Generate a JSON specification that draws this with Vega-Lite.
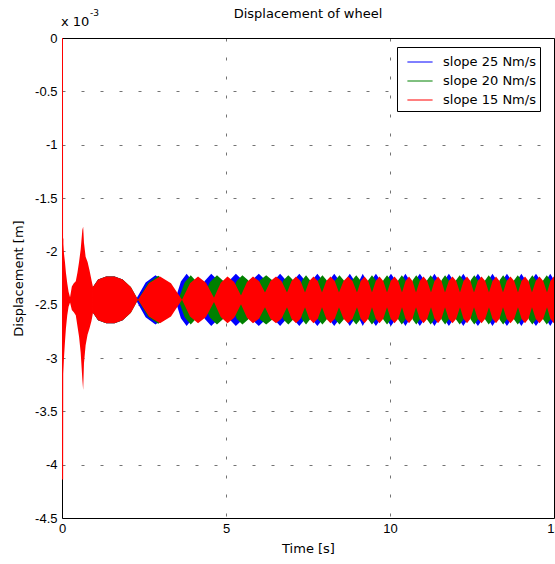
{
"$schema": "https://vega.github.io/schema/vega-lite/v6.json",
"width": 492, "height": 480,
"autosize": {"type": "none"},
"padding": {"left": 62, "top": 38, "right": 1, "bottom": 46},
"background": "white",
"title": {"text": "Displacement of wheel", "font": "DejaVu Sans", "fontSize": 13, "fontWeight": "normal", "color": "black", "anchor": "middle", "frame": "group", "offset": 10, "dy": 22},
"config": {
  "view": {"stroke": "black", "strokeWidth": 1},
  "axis": {"grid": true, "gridColor": "#000000", "gridOpacity": 0.55, "gridDash": [3, 16], "gridWidth": 1, "domain": false, "ticks": false,
    "labelFont": "Liberation Sans", "labelFontSize": 13, "labelColor": "black", "labelFlush": false,
    "titleFont": "DejaVu Sans", "titleFontSize": 13, "titleFontWeight": "normal", "titleColor": "black"}
},
"datasets": {
"b": [{"t":0.945,"hi":-2.335,"lo":-2.575},{"t":1.1,"hi":-2.265,"lo":-2.645},{"t":1.35,"hi":-2.235,"lo":-2.675},{"t":1.6,"hi":-2.235,"lo":-2.675},{"t":1.85,"hi":-2.265,"lo":-2.645},{"t":2.07,"hi":-2.335,"lo":-2.575},{"t":2.25,"hi":-2.455,"lo":-2.455},
{"t":2.55,"hi":-2.292,"lo":-2.618},{"t":2.85,"hi":-2.225,"lo":-2.685},{"t":3.15,"hi":-2.292,"lo":-2.618},{"t":3.45,"hi":-2.455,"lo":-2.455},
{"t":3.625,"hi":-2.282,"lo":-2.628},{"t":3.8,"hi":-2.21,"lo":-2.7},{"t":3.975,"hi":-2.278,"lo":-2.632},{"t":4.15,"hi":-2.425,"lo":-2.485},
{"t":4.35,"hi":-2.278,"lo":-2.632},{"t":4.55,"hi":-2.21,"lo":-2.7},{"t":4.75,"hi":-2.27,"lo":-2.64},{"t":4.95,"hi":-2.405,"lo":-2.505},
{"t":5.125,"hi":-2.266,"lo":-2.644},{"t":5.3,"hi":-2.21,"lo":-2.7},{"t":5.475,"hi":-2.261,"lo":-2.649},{"t":5.65,"hi":-2.385,"lo":-2.525},
{"t":5.825,"hi":-2.261,"lo":-2.649},{"t":6.0,"hi":-2.21,"lo":-2.7},{"t":6.175,"hi":-2.261,"lo":-2.649},{"t":6.35,"hi":-2.385,"lo":-2.525},
{"t":6.5,"hi":-2.261,"lo":-2.649},{"t":6.65,"hi":-2.21,"lo":-2.7},{"t":6.8,"hi":-2.261,"lo":-2.649},{"t":6.95,"hi":-2.385,"lo":-2.525},
{"t":7.093,"hi":-2.261,"lo":-2.649},{"t":7.235,"hi":-2.21,"lo":-2.7},{"t":7.378,"hi":-2.261,"lo":-2.649},{"t":7.52,"hi":-2.385,"lo":-2.525},
{"t":7.653,"hi":-2.261,"lo":-2.649},{"t":7.785,"hi":-2.21,"lo":-2.7},{"t":7.918,"hi":-2.261,"lo":-2.649},{"t":8.05,"hi":-2.385,"lo":-2.525},
{"t":8.175,"hi":-2.261,"lo":-2.649},{"t":8.3,"hi":-2.21,"lo":-2.7},{"t":8.425,"hi":-2.261,"lo":-2.649},{"t":8.55,"hi":-2.385,"lo":-2.525},
{"t":8.663,"hi":-2.261,"lo":-2.649},{"t":8.775,"hi":-2.21,"lo":-2.7},{"t":8.888,"hi":-2.261,"lo":-2.649},{"t":9.0,"hi":-2.385,"lo":-2.525},
{"t":9.085,"hi":-2.261,"lo":-2.649},{"t":9.17,"hi":-2.21,"lo":-2.7},{"t":9.255,"hi":-2.261,"lo":-2.649},{"t":9.34,"hi":-2.385,"lo":-2.525},
{"t":9.455,"hi":-2.261,"lo":-2.649},{"t":9.57,"hi":-2.21,"lo":-2.7},{"t":9.685,"hi":-2.261,"lo":-2.649},{"t":9.8,"hi":-2.385,"lo":-2.525},
{"t":9.915,"hi":-2.261,"lo":-2.649},{"t":10.03,"hi":-2.21,"lo":-2.7},{"t":10.145,"hi":-2.261,"lo":-2.649},{"t":10.26,"hi":-2.385,"lo":-2.525},
{"t":10.365,"hi":-2.261,"lo":-2.649},{"t":10.47,"hi":-2.21,"lo":-2.7},{"t":10.575,"hi":-2.261,"lo":-2.649},{"t":10.68,"hi":-2.385,"lo":-2.525},
{"t":10.795,"hi":-2.261,"lo":-2.649},{"t":10.91,"hi":-2.21,"lo":-2.7},{"t":11.025,"hi":-2.261,"lo":-2.649},{"t":11.14,"hi":-2.385,"lo":-2.525},
{"t":11.248,"hi":-2.261,"lo":-2.649},{"t":11.355,"hi":-2.21,"lo":-2.7},{"t":11.463,"hi":-2.261,"lo":-2.649},{"t":11.57,"hi":-2.385,"lo":-2.525},
{"t":11.683,"hi":-2.261,"lo":-2.649},{"t":11.795,"hi":-2.21,"lo":-2.7},{"t":11.908,"hi":-2.261,"lo":-2.649},{"t":12.02,"hi":-2.385,"lo":-2.525},
{"t":12.128,"hi":-2.261,"lo":-2.649},{"t":12.235,"hi":-2.21,"lo":-2.7},{"t":12.343,"hi":-2.261,"lo":-2.649},{"t":12.45,"hi":-2.385,"lo":-2.525},
{"t":12.565,"hi":-2.261,"lo":-2.649},{"t":12.68,"hi":-2.21,"lo":-2.7},{"t":12.795,"hi":-2.261,"lo":-2.649},{"t":12.91,"hi":-2.385,"lo":-2.525},
{"t":13.018,"hi":-2.261,"lo":-2.649},{"t":13.125,"hi":-2.21,"lo":-2.7},{"t":13.233,"hi":-2.261,"lo":-2.649},{"t":13.34,"hi":-2.385,"lo":-2.525},
{"t":13.453,"hi":-2.261,"lo":-2.649},{"t":13.565,"hi":-2.21,"lo":-2.7},{"t":13.678,"hi":-2.261,"lo":-2.649},{"t":13.79,"hi":-2.385,"lo":-2.525},
{"t":13.898,"hi":-2.261,"lo":-2.649},{"t":14.005,"hi":-2.21,"lo":-2.7},{"t":14.113,"hi":-2.261,"lo":-2.649},{"t":14.22,"hi":-2.385,"lo":-2.525},
{"t":14.335,"hi":-2.261,"lo":-2.649},{"t":14.45,"hi":-2.21,"lo":-2.7},{"t":14.565,"hi":-2.261,"lo":-2.649},{"t":14.68,"hi":-2.385,"lo":-2.525},
{"t":14.783,"hi":-2.261,"lo":-2.649},{"t":14.885,"hi":-2.21,"lo":-2.7},{"t":14.988,"hi":-2.261,"lo":-2.649},{"t":15.09,"hi":-2.385,"lo":-2.525},
{"t":15.193,"hi":-2.261,"lo":-2.649},{"t":15.295,"hi":-2.21,"lo":-2.7}],
"g": [{"t":0.945,"hi":-2.335,"lo":-2.575},{"t":1.1,"hi":-2.265,"lo":-2.645},{"t":1.35,"hi":-2.235,"lo":-2.675},{"t":1.6,"hi":-2.235,"lo":-2.675},{"t":1.85,"hi":-2.265,"lo":-2.645},{"t":2.1,"hi":-2.335,"lo":-2.575},{"t":2.317,"hi":-2.455,"lo":-2.455},
{"t":2.625,"hi":-2.296,"lo":-2.614},{"t":2.934,"hi":-2.23,"lo":-2.68},{"t":3.242,"hi":-2.296,"lo":-2.614},{"t":3.55,"hi":-2.455,"lo":-2.455},
{"t":3.738,"hi":-2.292,"lo":-2.618},{"t":3.925,"hi":-2.225,"lo":-2.685},{"t":4.113,"hi":-2.288,"lo":-2.622},{"t":4.3,"hi":-2.425,"lo":-2.485},
{"t":4.513,"hi":-2.288,"lo":-2.622},{"t":4.725,"hi":-2.225,"lo":-2.685},{"t":4.938,"hi":-2.283,"lo":-2.627},{"t":5.15,"hi":-2.405,"lo":-2.505},
{"t":5.325,"hi":-2.278,"lo":-2.632},{"t":5.5,"hi":-2.225,"lo":-2.685},{"t":5.675,"hi":-2.272,"lo":-2.638},{"t":5.85,"hi":-2.385,"lo":-2.525},
{"t":6.038,"hi":-2.272,"lo":-2.638},{"t":6.225,"hi":-2.225,"lo":-2.685},{"t":6.413,"hi":-2.272,"lo":-2.638},{"t":6.6,"hi":-2.385,"lo":-2.525},
{"t":6.75,"hi":-2.272,"lo":-2.638},{"t":6.9,"hi":-2.225,"lo":-2.685},{"t":7.05,"hi":-2.272,"lo":-2.638},{"t":7.2,"hi":-2.385,"lo":-2.525},
{"t":7.32,"hi":-2.272,"lo":-2.638},{"t":7.44,"hi":-2.225,"lo":-2.685},{"t":7.56,"hi":-2.272,"lo":-2.638},{"t":7.68,"hi":-2.385,"lo":-2.525},
{"t":7.81,"hi":-2.272,"lo":-2.638},{"t":7.94,"hi":-2.225,"lo":-2.685},{"t":8.07,"hi":-2.272,"lo":-2.638},{"t":8.2,"hi":-2.385,"lo":-2.525},
{"t":8.33,"hi":-2.272,"lo":-2.638},{"t":8.46,"hi":-2.225,"lo":-2.685},{"t":8.59,"hi":-2.272,"lo":-2.638},{"t":8.72,"hi":-2.385,"lo":-2.525},
{"t":8.845,"hi":-2.272,"lo":-2.638},{"t":8.97,"hi":-2.225,"lo":-2.685},{"t":9.095,"hi":-2.272,"lo":-2.638},{"t":9.22,"hi":-2.385,"lo":-2.525},
{"t":9.335,"hi":-2.272,"lo":-2.638},{"t":9.45,"hi":-2.225,"lo":-2.685},{"t":9.565,"hi":-2.272,"lo":-2.638},{"t":9.68,"hi":-2.385,"lo":-2.525},
{"t":9.795,"hi":-2.272,"lo":-2.638},{"t":9.91,"hi":-2.225,"lo":-2.685},{"t":10.025,"hi":-2.272,"lo":-2.638},{"t":10.14,"hi":-2.385,"lo":-2.525},
{"t":10.25,"hi":-2.272,"lo":-2.638},{"t":10.36,"hi":-2.225,"lo":-2.685},{"t":10.47,"hi":-2.272,"lo":-2.638},{"t":10.58,"hi":-2.385,"lo":-2.525},
{"t":10.69,"hi":-2.272,"lo":-2.638},{"t":10.8,"hi":-2.225,"lo":-2.685},{"t":10.91,"hi":-2.272,"lo":-2.638},{"t":11.02,"hi":-2.385,"lo":-2.525},
{"t":11.13,"hi":-2.272,"lo":-2.638},{"t":11.24,"hi":-2.225,"lo":-2.685},{"t":11.35,"hi":-2.272,"lo":-2.638},{"t":11.46,"hi":-2.385,"lo":-2.525},
{"t":11.57,"hi":-2.272,"lo":-2.638},{"t":11.68,"hi":-2.225,"lo":-2.685},{"t":11.79,"hi":-2.272,"lo":-2.638},{"t":11.9,"hi":-2.385,"lo":-2.525},
{"t":12.013,"hi":-2.272,"lo":-2.638},{"t":12.125,"hi":-2.225,"lo":-2.685},{"t":12.238,"hi":-2.272,"lo":-2.638},{"t":12.35,"hi":-2.385,"lo":-2.525},
{"t":12.46,"hi":-2.272,"lo":-2.638},{"t":12.57,"hi":-2.225,"lo":-2.685},{"t":12.68,"hi":-2.272,"lo":-2.638},{"t":12.79,"hi":-2.385,"lo":-2.525},
{"t":12.9,"hi":-2.272,"lo":-2.638},{"t":13.01,"hi":-2.225,"lo":-2.685},{"t":13.12,"hi":-2.272,"lo":-2.638},{"t":13.23,"hi":-2.385,"lo":-2.525},
{"t":13.34,"hi":-2.272,"lo":-2.638},{"t":13.45,"hi":-2.225,"lo":-2.685},{"t":13.56,"hi":-2.272,"lo":-2.638},{"t":13.67,"hi":-2.385,"lo":-2.525},
{"t":13.783,"hi":-2.272,"lo":-2.638},{"t":13.895,"hi":-2.225,"lo":-2.685},{"t":14.008,"hi":-2.272,"lo":-2.638},{"t":14.12,"hi":-2.385,"lo":-2.525},
{"t":14.23,"hi":-2.272,"lo":-2.638},{"t":14.34,"hi":-2.225,"lo":-2.685},{"t":14.45,"hi":-2.272,"lo":-2.638},{"t":14.56,"hi":-2.385,"lo":-2.525},
{"t":14.67,"hi":-2.272,"lo":-2.638},{"t":14.78,"hi":-2.225,"lo":-2.685},{"t":14.89,"hi":-2.272,"lo":-2.638},{"t":15.0,"hi":-2.385,"lo":-2.525},
{"t":15.11,"hi":-2.272,"lo":-2.638},{"t":15.22,"hi":-2.225,"lo":-2.685}],
"r": [{"t":0.945,"hi":-2.335,"lo":-2.575},{"t":1.1,"hi":-2.265,"lo":-2.645},{"t":1.35,"hi":-2.235,"lo":-2.675},{"t":1.6,"hi":-2.235,"lo":-2.675},{"t":1.85,"hi":-2.265,"lo":-2.645},{"t":2.1,"hi":-2.335,"lo":-2.575},{"t":2.317,"hi":-2.455,"lo":-2.455},
{"t":2.653,"hi":-2.299,"lo":-2.611},{"t":2.988,"hi":-2.235,"lo":-2.675},{"t":3.323,"hi":-2.299,"lo":-2.611},{"t":3.659,"hi":-2.455,"lo":-2.455},
{"t":3.903,"hi":-2.299,"lo":-2.611},{"t":4.147,"hi":-2.235,"lo":-2.675},{"t":4.39,"hi":-2.294,"lo":-2.616},{"t":4.634,"hi":-2.435,"lo":-2.475},
{"t":4.84,"hi":-2.294,"lo":-2.616},{"t":5.046,"hi":-2.235,"lo":-2.675},{"t":5.251,"hi":-2.288,"lo":-2.622},{"t":5.457,"hi":-2.415,"lo":-2.495},
{"t":5.64,"hi":-2.288,"lo":-2.622},{"t":5.823,"hi":-2.235,"lo":-2.675},{"t":6.006,"hi":-2.279,"lo":-2.631},{"t":6.189,"hi":-2.385,"lo":-2.525},
{"t":6.357,"hi":-2.279,"lo":-2.631},{"t":6.525,"hi":-2.235,"lo":-2.675},{"t":6.692,"hi":-2.279,"lo":-2.631},{"t":6.86,"hi":-2.385,"lo":-2.525},
{"t":6.997,"hi":-2.279,"lo":-2.631},{"t":7.135,"hi":-2.235,"lo":-2.675},{"t":7.272,"hi":-2.279,"lo":-2.631},{"t":7.409,"hi":-2.385,"lo":-2.525},
{"t":7.539,"hi":-2.279,"lo":-2.631},{"t":7.668,"hi":-2.235,"lo":-2.675},{"t":7.798,"hi":-2.279,"lo":-2.631},{"t":7.927,"hi":-2.385,"lo":-2.525},
{"t":8.057,"hi":-2.279,"lo":-2.631},{"t":8.186,"hi":-2.235,"lo":-2.675},{"t":8.316,"hi":-2.279,"lo":-2.631},{"t":8.445,"hi":-2.385,"lo":-2.525},
{"t":8.582,"hi":-2.279,"lo":-2.631},{"t":8.72,"hi":-2.235,"lo":-2.675},{"t":8.857,"hi":-2.279,"lo":-2.631},{"t":8.994,"hi":-2.385,"lo":-2.525},
{"t":9.108,"hi":-2.279,"lo":-2.631},{"t":9.223,"hi":-2.235,"lo":-2.675},{"t":9.337,"hi":-2.279,"lo":-2.631},{"t":9.451,"hi":-2.385,"lo":-2.525},
{"t":9.566,"hi":-2.279,"lo":-2.631},{"t":9.68,"hi":-2.235,"lo":-2.675},{"t":9.795,"hi":-2.279,"lo":-2.631},{"t":9.909,"hi":-2.385,"lo":-2.525},
{"t":10.023,"hi":-2.279,"lo":-2.631},{"t":10.138,"hi":-2.235,"lo":-2.675},{"t":10.252,"hi":-2.279,"lo":-2.631},{"t":10.366,"hi":-2.385,"lo":-2.525},
{"t":10.473,"hi":-2.279,"lo":-2.631},{"t":10.58,"hi":-2.235,"lo":-2.675},{"t":10.686,"hi":-2.279,"lo":-2.631},{"t":10.793,"hi":-2.385,"lo":-2.525},
{"t":10.907,"hi":-2.279,"lo":-2.631},{"t":11.022,"hi":-2.235,"lo":-2.675},{"t":11.136,"hi":-2.279,"lo":-2.631},{"t":11.25,"hi":-2.385,"lo":-2.525},
{"t":11.357,"hi":-2.279,"lo":-2.631},{"t":11.464,"hi":-2.235,"lo":-2.675},{"t":11.57,"hi":-2.279,"lo":-2.631},{"t":11.677,"hi":-2.385,"lo":-2.525},
{"t":11.791,"hi":-2.279,"lo":-2.631},{"t":11.906,"hi":-2.235,"lo":-2.675},{"t":12.02,"hi":-2.279,"lo":-2.631},{"t":12.134,"hi":-2.385,"lo":-2.525},
{"t":12.241,"hi":-2.279,"lo":-2.631},{"t":12.348,"hi":-2.235,"lo":-2.675},{"t":12.454,"hi":-2.279,"lo":-2.631},{"t":12.561,"hi":-2.385,"lo":-2.525},
{"t":12.675,"hi":-2.279,"lo":-2.631},{"t":12.79,"hi":-2.235,"lo":-2.675},{"t":12.904,"hi":-2.279,"lo":-2.631},{"t":13.018,"hi":-2.385,"lo":-2.525},
{"t":13.125,"hi":-2.279,"lo":-2.631},{"t":13.232,"hi":-2.235,"lo":-2.675},{"t":13.338,"hi":-2.279,"lo":-2.631},{"t":13.445,"hi":-2.385,"lo":-2.525},
{"t":13.559,"hi":-2.279,"lo":-2.631},{"t":13.674,"hi":-2.235,"lo":-2.675},{"t":13.788,"hi":-2.279,"lo":-2.631},{"t":13.902,"hi":-2.385,"lo":-2.525},
{"t":14.009,"hi":-2.279,"lo":-2.631},{"t":14.116,"hi":-2.235,"lo":-2.675},{"t":14.222,"hi":-2.279,"lo":-2.631},{"t":14.329,"hi":-2.385,"lo":-2.525},
{"t":14.443,"hi":-2.279,"lo":-2.631},{"t":14.558,"hi":-2.235,"lo":-2.675},{"t":14.672,"hi":-2.279,"lo":-2.631},{"t":14.787,"hi":-2.385,"lo":-2.525},
{"t":14.89,"hi":-2.279,"lo":-2.631},{"t":14.994,"hi":-2.235,"lo":-2.675},{"t":15.097,"hi":-2.279,"lo":-2.631},{"t":15.2,"hi":-2.385,"lo":-2.525}],
"tr": [{"t":0.012,"hi":-1.88,"lo":-3.2},{"t":0.03,"hi":-1.93,"lo":-3.15},{"t":0.06,"hi":-2.02,"lo":-3.0},{"t":0.09,"hi":-2.1,"lo":-2.85},{"t":0.12,"hi":-2.2,"lo":-2.72},{"t":0.16,"hi":-2.3,"lo":-2.6},{"t":0.2,"hi":-2.38,"lo":-2.52},{"t":0.245,"hi":-2.43,"lo":-2.48},{"t":0.3,"hi":-2.33,"lo":-2.55},{"t":0.36,"hi":-2.3,"lo":-2.57},{"t":0.42,"hi":-2.28,"lo":-2.6},{"t":0.47,"hi":-2.2,"lo":-2.7},{"t":0.52,"hi":-2.1,"lo":-2.8},{"t":0.57,"hi":-1.98,"lo":-2.95},{"t":0.62,"hi":-1.8,"lo":-3.2},{"t":0.645,"hi":-1.77,"lo":-3.3},{"t":0.67,"hi":-1.92,"lo":-3.05},{"t":0.72,"hi":-2.05,"lo":-2.88},{"t":0.78,"hi":-2.1,"lo":-2.78},{"t":0.84,"hi":-2.18,"lo":-2.72},{"t":0.9,"hi":-2.27,"lo":-2.65},{"t":0.945,"hi":-2.335,"lo":-2.575}],
"drop": [{"t":0,"hi":0},{"t":0.004,"hi":-4.14},{"t":0.012,"hi":-1.88}],
"note": [{"t":0,"hi":0,"txt":"x 10","sup":"-3"}]
},
"encoding": {
  "x": {"field": "t", "type": "quantitative", "scale": {"domain": [0, 15], "nice": false, "zero": false}, "axis": {"values": [0, 5, 10, 15], "title": "Time [s]", "labelPadding": 4, "titlePadding": 7}},
  "y": {"field": "hi", "type": "quantitative", "stack": null, "scale": {"domain": [-4.5, 0], "nice": false, "zero": false}, "axis": {"values": [-4.5, -4, -3.5, -3, -2.5, -2, -1.5, -1, -0.5, 0], "labelExpr": "'' + datum.value", "title": "Displacement [m]", "labelPadding": 5, "titlePadding": 9}}
},
"layer": [
  {"data": {"name": "b"}, "mark": {"type": "area", "clip": true, "interpolate": "linear"},
   "encoding": {"y2": {"field": "lo"}, "color": {"datum": "slope 25 Nm/s", "type": "nominal",
     "scale": {"domain": ["slope 25 Nm/s", "slope 20 Nm/s", "slope 15 Nm/s"], "range": ["#0000ff", "#008000", "#ff0000"]},
     "legend": {"title": null, "orient": "none", "legendX": 335, "legendY": 9, "symbolType": "M-1.2,0H1.2", "symbolSize": 441, "symbolStrokeWidth": 1, "symbolFillColor": "transparent",
       "labelFont": "DejaVu Sans", "labelFontSize": 13, "labelColor": "black", "labelOffset": 12, "symbolOffset": 8, "padding": 4, "rowPadding": 1,
       "strokeColor": "black", "fillColor": "white", "labelExpr": "datum.label + '  '",
       "encode": {"symbols": {"update": {"stroke": {"scale": "color", "field": "value"}, "strokeWidth": {"value": 1}, "fill": {"value": "transparent"}}}}}}}},
  {"data": {"name": "g"}, "mark": {"type": "area", "clip": true, "interpolate": "linear"},
   "encoding": {"y2": {"field": "lo"}, "color": {"datum": "slope 20 Nm/s", "type": "nominal"}}},
  {"data": {"name": "r"}, "mark": {"type": "area", "clip": true, "interpolate": "linear"},
   "encoding": {"y2": {"field": "lo"}, "color": {"datum": "slope 15 Nm/s", "type": "nominal"}}},
  {"data": {"name": "tr"}, "mark": {"type": "area", "clip": true, "interpolate": "linear"},
   "encoding": {"y2": {"field": "lo"}, "color": {"datum": "slope 15 Nm/s", "type": "nominal"}}},
  {"data": {"name": "drop"}, "mark": {"type": "line", "clip": true, "strokeWidth": 2},
   "encoding": {"color": {"datum": "slope 15 Nm/s", "type": "nominal"}}},
  {"data": {"name": "note"}, "mark": {"type": "text", "align": "left", "baseline": "alphabetic", "dx": -1, "dy": -12, "font": "DejaVu Sans", "fontSize": 13, "color": "black"},
   "encoding": {"text": {"field": "txt"}}},
  {"data": {"name": "note"}, "mark": {"type": "text", "align": "left", "baseline": "alphabetic", "dx": 28, "dy": -22, "font": "DejaVu Sans", "fontSize": 9, "color": "black"},
   "encoding": {"text": {"field": "sup"}}}
]
}
